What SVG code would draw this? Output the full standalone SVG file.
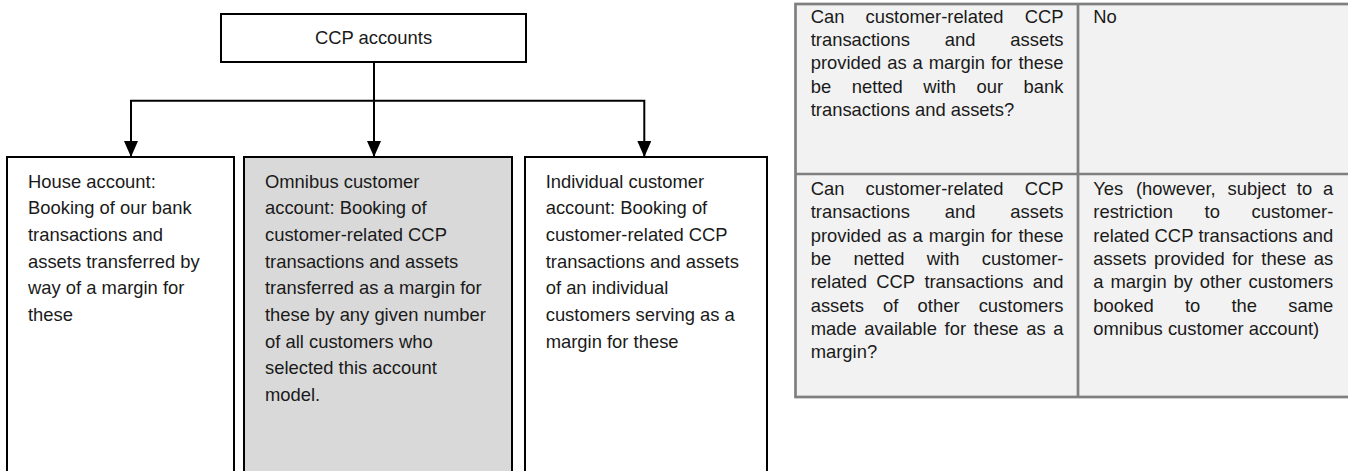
<svg xmlns="http://www.w3.org/2000/svg" width="1348" height="471" viewBox="0 0 1348 471">
<defs>
<style>
text{font-family:"Liberation Sans",Arial,sans-serif;font-size:18.4px;fill:#1a1a1a}
.box{fill:#fff;stroke:#000;stroke-width:2}
.grey{fill:#d9d9d9}
.conn{fill:none;stroke:#000;stroke-width:2}
.tbl{fill:#f2f2f2;stroke:#7f7f7f;stroke-width:2.7}
.tl{fill:none;stroke:#7f7f7f;stroke-width:2.7}
.e{text-anchor:end}
</style>
<marker id="arr" viewBox="0 0 16 14" refX="16" refY="7" markerWidth="16" markerHeight="14" markerUnits="userSpaceOnUse" orient="auto">
<path d="M0,0 L16,7 L0,14 z" fill="#000"/>
</marker>
</defs>
<rect width="1348" height="471" fill="#fff"/>

<g id="ccp-accounts">
<rect class="box" x="221" y="14" width="305" height="48"/>
<text x="373.5" y="44" text-anchor="middle">CCP accounts</text>
</g>

<g id="connectors">
<path class="conn" d="M374,62 V157" marker-end="url(#arr)"/>
<path class="conn" d="M374,100.7 H131 V157" marker-end="url(#arr)"/>
<path class="conn" d="M374,100.7 H644.3 V157" marker-end="url(#arr)"/>
</g>

<g id="house-account">
<rect class="box" x="7" y="157" width="227" height="340"/>
<text x="28" y="187.5">House account:</text>
<text x="28" y="214.2">Booking of our bank</text>
<text x="28" y="240.9">transactions and</text>
<text x="28" y="267.6">assets transferred by</text>
<text x="28" y="294.3">way of a margin for</text>
<text x="28" y="321">these</text>
</g>

<g id="omnibus-account">
<rect class="box grey" x="244" y="157" width="268" height="340"/>
<text x="265" y="187.5">Omnibus customer</text>
<text x="265" y="214.2">account: Booking of</text>
<text x="265" y="240.9">customer-related CCP</text>
<text x="265" y="267.6">transactions and assets</text>
<text x="265" y="294.3">transferred as a margin for</text>
<text x="265" y="321">these by any given number</text>
<text x="265" y="347.7">of all customers who</text>
<text x="265" y="374.4">selected this account</text>
<text x="265" y="401.1">model.</text>
</g>

<g id="individual-account">
<rect class="box" x="525" y="157" width="242" height="340"/>
<text x="545.7" y="187.5">Individual customer</text>
<text x="545.7" y="214.2">account: Booking of</text>
<text x="545.7" y="240.9">customer-related CCP</text>
<text x="545.7" y="267.6">transactions and assets</text>
<text x="545.7" y="294.3">of an individual</text>
<text x="545.7" y="321">customers serving as a</text>
<text x="545.7" y="347.7">margin for these</text>
</g>

<g id="netting-table">
<rect class="tbl" x="795.5" y="4" width="570" height="393"/>
<line class="tl" x1="1078" y1="4" x2="1078" y2="397"/>
<line class="tl" x1="795.5" y1="174" x2="1365" y2="174"/>

<text y="22.7"><tspan x="810.7">Can</tspan><tspan x="865.5">customer-related</tspan></text>
<text class="e" x="1063.5" y="22.7">CCP</text>
<text y="46"><tspan x="810.7">transactions</tspan><tspan x="944.8">and</tspan></text>
<text class="e" x="1063.5" y="46">assets</text>
<text y="69.3"><tspan x="810.7">provided</tspan><tspan x="887.2">as</tspan><tspan x="912.6">a</tspan><tspan x="928.8">margin</tspan><tspan x="991">for</tspan></text>
<text class="e" x="1063.5" y="69.3">these</text>
<text y="92.7"><tspan x="810.7">be</tspan><tspan x="851.7">netted</tspan><tspan x="923.3">with</tspan><tspan x="976.5">our</tspan></text>
<text class="e" x="1063.5" y="92.7">bank</text>
<text x="810.7" y="116">transactions and assets?</text>

<text x="1093.3" y="22.7">No</text>

<text y="195"><tspan x="810.7">Can</tspan><tspan x="865.5">customer-related</tspan></text>
<text class="e" x="1063.5" y="195">CCP</text>
<text y="218.3"><tspan x="810.7">transactions</tspan><tspan x="944.8">and</tspan></text>
<text class="e" x="1063.5" y="218.3">assets</text>
<text y="241.7"><tspan x="810.7">provided</tspan><tspan x="887.2">as</tspan><tspan x="912.6">a</tspan><tspan x="928.8">margin</tspan><tspan x="991">for</tspan></text>
<text class="e" x="1063.5" y="241.7">these</text>
<text y="265"><tspan x="810.7">be</tspan><tspan x="853.4">netted</tspan><tspan x="926.8">with</tspan></text>
<text class="e" x="1063.5" y="265">customer-</text>
<text y="288.3"><tspan x="810.7">related</tspan><tspan x="876.2">CCP</tspan><tspan x="924.4">transactions</tspan></text>
<text class="e" x="1063.5" y="288.3">and</text>
<text y="311.7"><tspan x="810.7">assets</tspan><tspan x="883">of</tspan><tspan x="917.6">other</tspan></text>
<text class="e" x="1063.5" y="311.7">customers</text>
<text y="335"><tspan x="810.7">made</tspan><tspan x="864.3">available</tspan><tspan x="944.6">for</tspan><tspan x="973.6">these</tspan><tspan x="1026.3">as</tspan></text>
<text class="e" x="1063.5" y="335">a</text>
<text x="810.7" y="358.3">margin?</text>

<text y="195"><tspan x="1093.3">Yes</tspan><tspan x="1135.9">(however,</tspan><tspan x="1227.6">subject</tspan><tspan x="1296.8">to</tspan></text>
<text class="e" x="1333.3" y="195">a</text>
<text y="218.3"><tspan x="1093.3">restriction</tspan><tspan x="1204.6">to</tspan></text>
<text class="e" x="1333.3" y="218.3">customer-</text>
<text y="241.7"><tspan x="1093.3">related</tspan><tspan x="1154.6">CCP</tspan><tspan x="1198.4">transactions</tspan></text>
<text class="e" x="1333.3" y="241.7">and</text>
<text y="265"><tspan x="1093.3">assets</tspan><tspan x="1154.1">provided</tspan><tspan x="1232.2">for</tspan><tspan x="1261.3">these</tspan></text>
<text class="e" x="1333.3" y="265">as</text>
<text y="288.3"><tspan x="1093.3">a</tspan><tspan x="1110.4">margin</tspan><tspan x="1173.4">by</tspan><tspan x="1199.7">other</tspan></text>
<text class="e" x="1333.3" y="288.3">customers</text>
<text y="311.7"><tspan x="1093.3">booked</tspan><tspan x="1184.9">to</tspan><tspan x="1231.5">the</tspan></text>
<text class="e" x="1333.3" y="311.7">same</text>
<text x="1093.3" y="335">omnibus customer account)</text>
</g>
</svg>
